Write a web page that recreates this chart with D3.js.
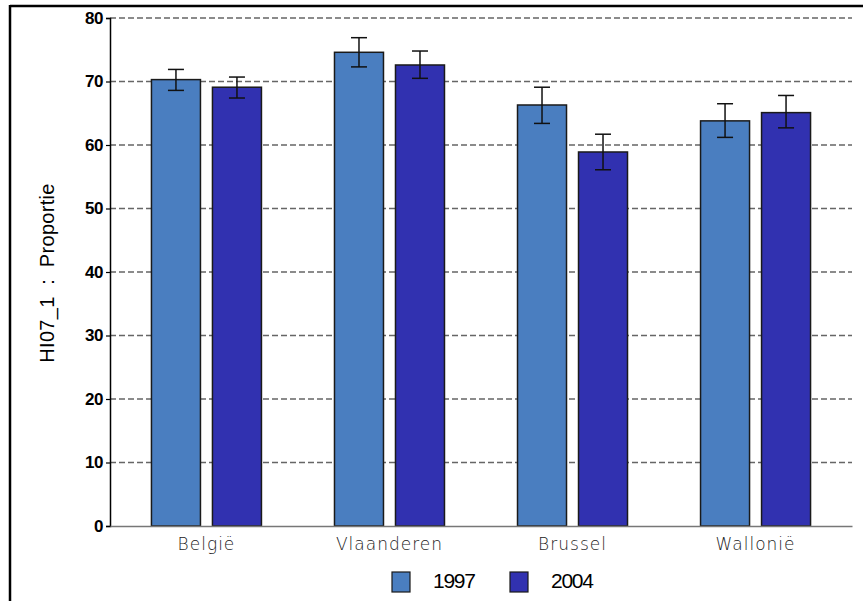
<!DOCTYPE html>
<html>
<head>
<meta charset="utf-8">
<script src="https://cdn.jsdelivr.net/npm/d3@7"></script>
<style>
  body { margin: 0; background: #fff; }
  svg { display: block; }
</style>
</head>
<body>
<svg id="chart" width="863" height="601"></svg>
<script>
// data
var regions = ["België", "Vlaanderen", "Brussel", "Wallonië"];
var years = ["1997", "2004"];
var val1997 = [70.3, 74.6, 66.3, 63.8];
var lo1997  = [68.6, 72.3, 63.4, 61.2];
var hi1997  = [71.9, 76.9, 69.1, 66.5];
var val2004 = [69.1, 72.6, 58.9, 65.1];
var lo2004  = [67.4, 70.5, 56.1, 62.7];
var hi2004  = [70.7, 74.8, 61.7, 67.8];
var yTicks = [0, 10, 20, 30, 40, 50, 60, 70, 80];
var colors = ["#4a7ec0", "#3131b0"];

var svg = d3.select("#chart");

// frame
svg.append("line").attr("x1", 10).attr("x2", 863).attr("y1", 6).attr("y2", 6)
   .attr("stroke", "#000").attr("stroke-width", 2.5);
svg.append("line").attr("x1", 10).attr("x2", 10).attr("y1", 5).attr("y2", 601)
   .attr("stroke", "#000").attr("stroke-width", 2.5);

var pLeft = 110, pRight = 852, pTop = 18, pBottom = 526;

var x0 = d3.scaleBand().domain(regions).range([pLeft, pRight]).paddingOuter(0.027).paddingInner(0);
var yScale = d3.scaleLinear().domain([0, 80]).range([pBottom, pTop]);

var rows = regions.map(function(r, i) {
  return [
    { region: r, year: "1997", v: val1997[i], lo: lo1997[i], hi: hi1997[i] },
    { region: r, year: "2004", v: val2004[i], lo: lo2004[i], hi: hi2004[i] }
  ];
});

var barW = 49, gap = 12;
function barX(d) {
  var c = x0(d.region) + x0.bandwidth() / 2;
  return d.year == "1997" ? c - gap / 2 - barW : c + gap / 2;
}

// gridlines
svg.append("g").selectAll("line")
  .data(yTicks.filter(function(t){ return t > 0; }))
  .enter().append("line")
  .attr("x1", pLeft).attr("x2", pRight)
  .attr("y1", function(d){ return yScale(d); })
  .attr("y2", function(d){ return yScale(d); })
  .attr("stroke", "#666").attr("stroke-width", 1.5)
  .attr("stroke-dasharray", "6,3");

// bars
var groups = svg.append("g").selectAll("g").data(rows).enter().append("g");
groups.selectAll("rect").data(function(d){ return d; }).enter().append("rect")
  .attr("x", barX)
  .attr("y", function(d){ return yScale(d.v); })
  .attr("width", barW)
  .attr("height", function(d){ return yScale(0) - yScale(d.v); })
  .attr("fill", function(d){ return d.year == "1997" ? colors[0] : colors[1]; })
  .attr("stroke", "#1a1a1a").attr("stroke-width", 1.5);

// error bars
var eb = groups.selectAll("g.err").data(function(d){ return d; }).enter().append("g").attr("class", "err");
eb.append("line")
  .attr("x1", function(d){ return barX(d) + barW / 2; })
  .attr("x2", function(d){ return barX(d) + barW / 2; })
  .attr("y1", function(d){ return yScale(d.lo); })
  .attr("y2", function(d){ return yScale(d.hi); })
  .attr("stroke", "#111").attr("stroke-width", 1.5);
eb.append("line")
  .attr("x1", function(d){ return barX(d) + barW / 2 - 8; })
  .attr("x2", function(d){ return barX(d) + barW / 2 + 8; })
  .attr("y1", function(d){ return yScale(d.hi); })
  .attr("y2", function(d){ return yScale(d.hi); })
  .attr("stroke", "#111").attr("stroke-width", 1.5);
eb.append("line")
  .attr("x1", function(d){ return barX(d) + barW / 2 - 8; })
  .attr("x2", function(d){ return barX(d) + barW / 2 + 8; })
  .attr("y1", function(d){ return yScale(d.lo); })
  .attr("y2", function(d){ return yScale(d.lo); })
  .attr("stroke", "#111").attr("stroke-width", 1.5);

// y axis
var yAxis = d3.axisLeft(yScale).tickValues(yTicks).tickSize(4).tickPadding(3);
var gy = svg.append("g").attr("transform", "translate(" + pLeft + ",0)").call(yAxis);
gy.select(".domain").attr("stroke", "#000").attr("stroke-width", 1.5);
gy.selectAll(".tick line").attr("stroke", "#000").attr("stroke-width", 1.2);
gy.selectAll("text").attr("font-family", "Liberation Sans, Arial, sans-serif")
  .attr("font-size", 17).attr("font-weight", "bold").attr("fill", "#000")
  .attr("letter-spacing", -0.5);

// x axis
var xAxis = d3.axisBottom(x0).tickSize(0).tickPadding(12);
var gx = svg.append("g").attr("transform", "translate(0," + pBottom + ")").call(xAxis);
gx.select(".domain").attr("stroke", "#777").attr("stroke-width", 1.5);
gx.selectAll("text").attr("font-family", "DejaVu Sans, sans-serif")
  .attr("font-size", 17).attr("font-weight", 200).attr("fill", "#222")
  .attr("letter-spacing", 1);

// y title
svg.append("text")
  .attr("transform", "translate(54,273) rotate(-90)")
  .attr("text-anchor", "middle")
  .attr("font-family", "Liberation Sans, Arial, sans-serif")
  .attr("font-size", 20).attr("fill", "#000")
  .attr("letter-spacing", 0.3)
  .style("white-space", "pre")
  .text("HI07_1  :  Proportie");

// legend
var legX = [392, 510];
var leg = svg.append("g").selectAll("g").data(years).enter().append("g");
leg.append("rect")
  .attr("x", function(d, i){ return legX[i]; })
  .attr("y", 572).attr("width", 18).attr("height", 20)
  .attr("fill", function(d, i){ return colors[i]; })
  .attr("stroke", "#1a1a1a").attr("stroke-width", 1.2);
leg.append("text")
  .attr("x", function(d, i){ return legX[i] + 41; })
  .attr("y", 588)
  .attr("font-family", "Liberation Sans, Arial, sans-serif")
  .attr("font-size", 21).attr("fill", "#000")
  .attr("letter-spacing", -1.3)
  .text(function(d){ return d; });
</script>
</body>
</html>
